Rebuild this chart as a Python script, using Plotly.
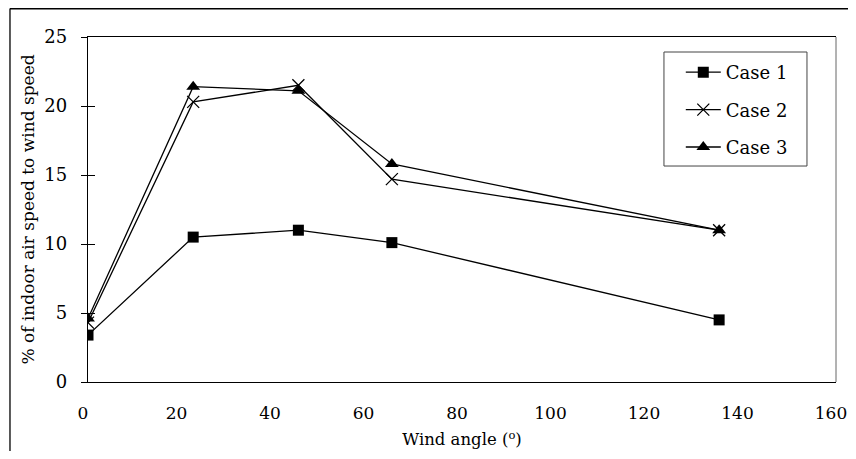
import plotly.graph_objects as go

wind_angle = [0, 22.5, 45, 65, 135]
case1 = [3.4, 10.5, 11.0, 10.1, 4.5]
case2 = [4.3, 20.3, 21.5, 14.7, 11.0]
case3 = [4.6, 21.4, 21.1, 15.8, 11.0]
x_ticks = [0, 20, 40, 60, 80, 100, 120, 140, 160]
y_ticks = [0, 5, 10, 15, 20, 25]

FONT = "DejaVu Serif, Liberation Serif, serif"

fig = go.Figure()
fig.add_trace(go.Scatter(x=wind_angle, y=case1, name="Case 1", mode="lines+markers",
                         legendgroup="g1",
                         line=dict(color="black", width=1.3),
                         marker=dict(symbol="square", size=11, color="black")))
fig.add_trace(go.Scatter(x=wind_angle, y=case2, name="Case 2", mode="lines+markers",
                         legendgroup="g2",
                         line=dict(color="black", width=1.3),
                         marker=dict(symbol="x-thin-open", size=12, color="black",
                                     line=dict(color="black", width=1.3))))
fig.add_trace(go.Scatter(x=wind_angle, y=case3, name="Case 3", mode="lines+markers",
                         legendgroup="g3",
                         line=dict(color="black", width=1.3),
                         marker=dict(symbol="triangle-up", size=12, color="black")))
# helper (empty) trace so the inner tick marks axis is drawn
fig.add_trace(go.Scatter(x=[None], y=[None], yaxis="y2", showlegend=False, hoverinfo="skip"))

# page has an 8px body margin: figure sits at (8, 8) and must fit in 856x459
fig.update_layout(
    autosize=False,
    width=840, height=443,
    margin=dict(l=80, r=12, t=29, b=69),
    paper_bgcolor="white", plot_bgcolor="white",
    font=dict(family=FONT, size=18, color="black"),
    showlegend=True,
    legend=dict(x=0.7925, y=0.9507, xanchor="left", yanchor="top",
                bgcolor="rgba(0,0,0,0)", borderwidth=0,
                font=dict(family=FONT, size=18, color="black"),
                tracegroupgap=11, itemwidth=35),
    xaxis=dict(range=[0, 160], tickvals=x_ticks, ticktext=[str(v) for v in x_ticks],
               showgrid=False, zeroline=False, showline=True, linecolor="black",
               linewidth=1, mirror=True, ticks="", ticklabelstandoff=16,
               ticklabelshift=-5,
               ticklabeloverflow="allow", automargin=False,
               tickfont=dict(family=FONT, size=17),
               title=dict(text="Wind angle (<sup>o</sup>)", font=dict(family=FONT, size=16.5),
                          standoff=11)),
    yaxis=dict(range=[0, 25], tickvals=y_ticks, ticktext=[str(v) for v in y_ticks],
               showgrid=False, zeroline=False, showline=True, linecolor="black",
               linewidth=1.3, ticks="outside", ticklen=6, tickwidth=1, tickcolor="black",
               ticklabelstandoff=10, automargin=False, tickfont=dict(family=FONT, size=18),
               title=dict(text="% of indoor air speed to wind speed",
                          font=dict(family=FONT, size=17), standoff=5)),
    yaxis2=dict(range=[0, 25], overlaying="y", side="left", anchor="x",
                tickvals=y_ticks, showticklabels=False, showgrid=False, zeroline=False,
                showline=False, ticks="inside", ticklen=7, tickwidth=1, tickcolor="black",
                automargin=False),
    shapes=[
        # right border of plot area (grey)
        dict(type="line", xref="paper", yref="paper", x0=1, x1=1, y0=0, y1=1,
             line=dict(color="#666", width=1)),
        # legend frame
        dict(type="rect", xref="paper", yref="paper", x0=0.770, x1=0.9612, y0=0.626, y1=0.9565,
             line=dict(color="#444", width=1), fillcolor="white", layer="above"),
        # outer chart border (left and top)
        dict(type="line", xref="paper", yref="paper", x0=-0.1043, x1=-0.1043, y0=1.0826, y1=-0.3,
             line=dict(color="black", width=1.3)),
        dict(type="line", xref="paper", yref="paper", x0=-0.1043, x1=1.05, y0=1.0826, y1=1.0826,
             line=dict(color="black", width=2)),
    ],
)

fig.write_html("out.html")
